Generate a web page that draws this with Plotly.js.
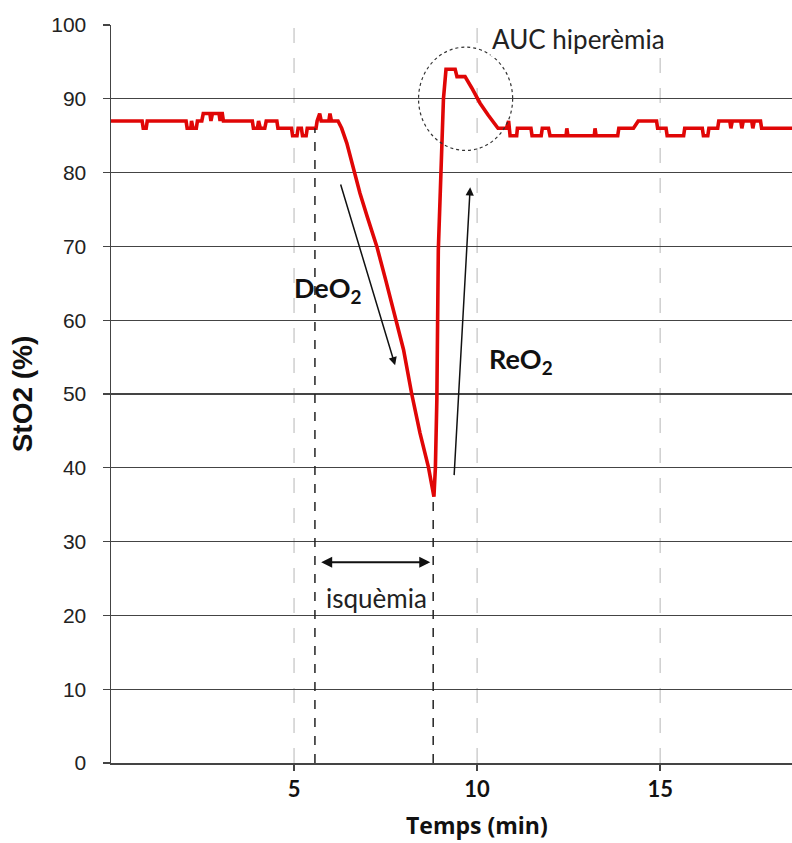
<!DOCTYPE html>
<html>
<head>
<meta charset="utf-8">
<script src="https://cdn.plot.ly/plotly-3.0.1.min.js"></script>
<style>html,body{margin:0;padding:0;background:#fff;}#chart{width:792px;height:843px;}</style>
</head>
<body>
<div id="chart"></div>
<script>
// Time (min) and StO2 (%) readings
var timeMin = [
  0, 0.85, 0.88, 0.96, 0.99, 2.05, 2.08, 2.18, 2.2, 2.24, 2.33, 2.36, 2.48, 2.52, 2.7, 2.73, 2.77, 2.95, 2.98, 3.01, 3.04, 3.07,
  3.86, 3.89, 4.0, 4.03, 4.08, 4.2, 4.24, 4.53, 4.56, 4.93, 4.96, 5.08, 5.11, 5.2, 5.23, 5.33, 5.36, 5.6, 5.63, 5.7, 5.74, 5.95, 5.98, 6.02, 6.2,
  6.26, 6.3, 6.44, 6.6, 6.8, 7.0, 7.26, 7.5, 7.71, 7.99, 8.21, 8.44, 8.67, 8.82,
  8.86, 8.9, 8.94, 9.03, 9.08, 9.15, 9.4, 9.45, 9.67, 9.85, 10.08, 10.3, 10.57,
  10.8, 10.86, 10.9, 11.08, 11.1, 11.47, 11.5, 11.75, 11.78, 11.95, 11.99, 12.43, 12.45, 12.48, 13.2, 13.22, 13.25,
  13.84, 13.87, 14.27, 14.4, 14.9, 14.93, 15.16, 15.19, 15.64, 15.67, 16.15, 16.18, 16.3, 16.33, 16.57, 16.6,
  16.9, 16.93, 16.97, 17.2, 17.23, 17.27, 17.5, 17.53, 17.57, 17.74, 17.77, 18.6
];
var sto2 = [
  87, 87, 86, 86, 87, 87, 86, 86, 87, 86, 86, 87, 87, 88, 88, 87, 88, 88, 87, 88, 88, 87,
  87, 86, 86, 87, 86, 86, 87, 87, 86, 86, 85, 85, 86, 86, 85, 85, 86, 86, 87, 88, 87, 87, 88, 87, 87,
  86.5, 86, 84, 80.8, 77.2, 74, 70, 65.5, 61.4, 56, 50.1, 44.7, 40.1, 36.1,
  40, 49.2, 69.5, 83, 90, 94, 94, 93, 93, 91.5, 89.4, 87.8, 86,
  86, 87, 85, 85, 86, 86, 85, 85, 86, 86, 85, 85, 86, 85, 85, 86, 85,
  85, 86, 86, 87, 87, 86, 86, 85, 85, 86, 86, 85, 85, 86, 86, 87,
  87, 86, 87, 87, 86, 87, 87, 86, 87, 87, 86, 86
];
var yTicks = [0, 10, 20, 30, 40, 50, 60, 70, 80, 90, 100];
var xTicks = [5, 10, 15];
var ischemiaStart = 5.57;
var ischemiaEnd = 8.8;
var ischemiaStartLevel = 86;
var ischemiaEndLevel = 36;

var trace = {
  x: timeMin, y: sto2, type: 'scatter', mode: 'lines',
  line: {color: 'rgb(224,6,6)', width: 3.6},
  hoverinfo: 'skip'
};

var shapes = [];
xTicks.forEach(function(t){
  shapes.push({type:'line', xref:'x', yref:'y', x0:t, x1:t, y0:0, y1:100,
    line:{color:'#cfcfcf', width:1.5, dash:'longdash'}, layer:'below'});
});
shapes.push({type:'line', xref:'x', yref:'y', x0:ischemiaStart, x1:ischemiaStart, y0:0, y1:ischemiaStartLevel,
  line:{color:'#222', width:1.5, dash:'dash'}});
shapes.push({type:'line', xref:'x', yref:'y', x0:ischemiaEnd, x1:ischemiaEnd, y0:0, y1:ischemiaEndLevel,
  line:{color:'#222', width:1.5, dash:'dash'}});
shapes.push({type:'circle', xref:'x', yref:'y', x0:8.4, x1:10.97, y0:83.0, y1:97.0,
  line:{color:'#333', width:1.2, dash:'dot'}});

var fontC = 'Lato, "Open Sans", sans-serif';
var annotations = [
  {x: (578 - 111) / (792 - 111), y: (763 - 39) / (763 - 25), xref:'paper', yref:'paper',
   xanchor:'center', yanchor:'middle', text:'AUC hiperèmia', showarrow:false,
   font:{family:fontC, size:26, color:'#222'}, bgcolor:'#fff'},
  {x: 7.76, y: 53.9, ax: 6.26, ay: 78.6, xref:'x', yref:'y', axref:'x', ayref:'y', text:'',
   showarrow:true, arrowhead:2, arrowsize:1.1, arrowwidth:1.5, arrowcolor:'#111'},
  {x: 9.81, y: 78.0, ax: 9.37, ay: 38.8, xref:'x', yref:'y', axref:'x', ayref:'y', text:'',
   showarrow:true, arrowhead:2, arrowsize:1.1, arrowwidth:1.5, arrowcolor:'#111'},
  {x: 8.72, y: 27.2, ax: 5.7, ay: 27.2, xref:'x', yref:'y', axref:'x', ayref:'y', text:'',
   showarrow:true, arrowhead:2, startarrowhead:2, arrowside:'end+start', arrowsize:1.1, arrowwidth:2, arrowcolor:'#111'},
  {x: 5.94, y: 64.2, xref:'x', yref:'y', xanchor:'center', yanchor:'middle', text:'<b>DeO<sub>2</sub></b>', showarrow:false,
   font:{family:fontC, size:27, color:'#111'}},
  {x: 11.2, y: 54.5, xref:'x', yref:'y', xanchor:'center', yanchor:'middle', text:'<b>ReO<sub>2</sub></b>', showarrow:false,
   font:{family:fontC, size:27, color:'#111'}},
  {x: 7.25, y: 22.4, xref:'x', yref:'y', xanchor:'center', yanchor:'middle', text:'isquèmia', showarrow:false,
   font:{family:fontC, size:26, color:'#222'}},
  {x: (477 - 111) / (792 - 111), y: -(825 - 763) / (763 - 25), xref:'paper', yref:'paper',
   xanchor:'center', yanchor:'middle', text:'<b>Temps (min)</b>', showarrow:false, borderpad:0,
   font:{family:'"Open Sans", sans-serif', size:23, color:'#111'}}
];

var layout = {
  width: 792, height: 843,
  margin: {l: 111, r: 0, t: 25, b: 80},
  paper_bgcolor: '#fff', plot_bgcolor: '#fff',
  showlegend: false,
  xaxis: {
    range: [0, 18.6], tickvals: xTicks, ticktext: xTicks.map(String),
    showgrid: false, zeroline: false,
    showline: true, linecolor: '#444', linewidth: 2,
    ticks: 'outside', ticklen: 6, tickcolor: '#444', tickwidth: 1.5,
    tickfont: {family: fontC, size: 22, color: '#111', weight: 'bold'}
  },
  yaxis: {
    range: [0, 100], tickvals: yTicks,
    showgrid: true, gridcolor: '#444', gridwidth: 1.3,
    zeroline: false,
    showline: true, linecolor: '#444', linewidth: 1.5,
    ticks: 'outside', ticklen: 7, tickcolor: '#444', tickwidth: 1.2,
    ticklabelstandoff: 12,
    tickfont: {family: 'Liberation Sans, Arial, sans-serif', size: 21, color: '#222'},
    title: {text: '<b>StO2 (%)</b>', font: {family: 'Liberation Sans, Arial, sans-serif', size: 28, color: '#111'}, standoff: 10}
  },
  shapes: shapes,
  annotations: annotations
};

Plotly.newPlot('chart', [trace], layout, {displayModeBar: false, staticPlot: true});
</script>
</body>
</html>
